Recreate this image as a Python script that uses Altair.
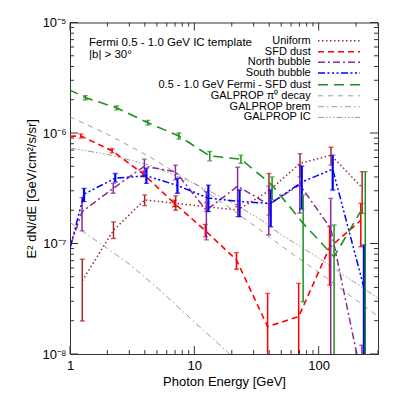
import altair as alt
import pandas as pd

# ---------------- data ----------------
energy = [0.75, 1.33, 2.37, 4.22, 7.50, 13.3, 23.7, 42.2, 75.0, 133.0, 237.0]

uniform_val = [None, 4.6e-8, 1.32e-7, 2.48e-7, 2.31e-7, 2.15e-7, 2.01e-7, 3.0e-7, 5.3e-7, 6.3e-7, 3.2e-7]
uniform_lo = [None, 1.99e-8, 1.11e-7, 2.2e-7, 2.0e-7, 1.95e-7, 1.75e-7, 1.81e-7, 4.0e-7, 5.13e-7, 1.87e-7]
uniform_hi = [None, 7.2e-8, 1.57e-7, 2.75e-7, 2.7e-7, 2.35e-7, 2.25e-7, 4.3e-7, 6.5e-7, 7.43e-7, 4.47e-7]

sfd_val = [9.2e-7, 9.4e-7, 6.9e-7, 4.26e-7, 2.31e-7, 1.31e-7, 7.1e-8, 1.77e-8, 2.18e-8, 9.2e-8, 1.62e-7]
sfd_lo = [9.2e-7, 9.0e-7, 6.6e-7, 4.0e-7, 2.15e-7, 1.15e-7, 5.85e-8, 2e-9, 2e-9, 4.2e-8, 9.35e-8]
sfd_hi = [9.2e-7, 9.8e-7, 7.2e-7, 4.5e-7, 2.47e-7, 1.49e-7, 8.26e-8, 3.54e-8, 4.36e-8, 1.42e-7, 2.31e-7]

north_val = [3.0e-8, 1.94e-7, 3.16e-7, 5.0e-7, 4.47e-7, 2.0e-7, 3.3e-7, 2.25e-7, 3.4e-7, 1.37e-7, 6e-9]
north_lo = [3.0e-8, 1.3e-7, 2.85e-7, 4.2e-7, 3.76e-7, 1.08e-7, 2.15e-7, 1.2e-7, 1.88e-7, 2e-9, 2e-9]
north_hi = [3.0e-8, 2.6e-7, 3.5e-7, 5.8e-7, 5.13e-7, 2.94e-7, 4.9e-7, 3.3e-7, 5.13e-7, 2.56e-7, 1.2e-8]

south_val = [2.3e-8, 2.8e-7, 3.9e-7, 4.1e-7, 3.35e-7, 2.58e-7, 2.4e-7, 2.3e-7, 3.6e-7, 4.7e-7, 4e-8]
south_lo = [2.3e-8, 2.39e-7, 3.6e-7, 3.5e-7, 2.85e-7, 1.94e-7, 1.75e-7, 1.42e-7, 2.05e-7, 3.05e-7, 2e-9]
south_hi = [2.3e-8, 3.16e-7, 4.3e-7, 4.8e-7, 3.89e-7, 3.38e-7, 3.05e-7, 3.05e-7, 5.0e-7, 6.3e-7, 9.7e-8]

fermi_val = [2.87e-6, 2.09e-6, 1.69e-6, 1.24e-6, 9.4e-7, 6.2e-7, 5.8e-7, 3.38e-7, 1.52e-7, 7.6e-8, 2.3e-7]
fermi_lo = [2.87e-6, 2.0e-6, 1.62e-6, 1.18e-6, 8.8e-7, 5.6e-7, 5.3e-7, 2.48e-7, 2.97e-8, 2e-9, 2e-9]
fermi_hi = [2.87e-6, 2.18e-6, 1.76e-6, 1.30e-6, 1.0e-6, 6.8e-7, 6.3e-7, 4.0e-7, 2.75e-7, 1.47e-7, 4.47e-7]

# small horizontal shift of each series' points (in dex of energy)
shift = {"Uniform": -0.025, "SFD dust": -0.036, "North bubble": -0.027,
         "South bubble": -0.011, "0.5 - 1.0 GeV Fermi - SFD dust": 0.0}

galprop_E = [1, 2, 4.4, 10, 20, 34, 50, 100, 300]
pi0_val = [1.40e-6, 9.75e-7, 6.07e-7, 3.47e-7, 2.04e-7, 1.32e-7, 9.5e-8, 5.5e-8, 2.2e-8]
ic_val = [7.3e-7, 6.4e-7, 5.1e-7, 3.5e-7, 2.35e-7, 1.65e-7, 1.2e-7, 7.4e-8, 3.2e-8]
brem_E = [1, 2, 3, 5, 10, 20, 40]
brem_val = [1.55e-7, 9.0e-8, 6.5e-8, 4.0e-8, 1.95e-8, 9.6e-9, 4.6e-9]

x_major = [1, 10, 100]
x_minor = [2, 3, 4, 5, 6, 7, 8, 9, 20, 30, 40, 50, 60, 70, 80, 90, 200, 300]
y_major = [1e-8, 1e-7, 1e-6, 1e-5]
y_minor = [k * 10.0 ** e for e in (-8, -7, -6) for k in range(2, 10)]

# ---------------- styles ----------------
W, H = 308, 331.5
FONT = "Liberation Sans"
GRAY = "#9a9a9a"

series = [
    ("Uniform", uniform_val, uniform_lo, uniform_hi, "#a52a2a", [1.5, 2.5], 1.5, 1.5),
    ("SFD dust", sfd_val, sfd_lo, sfd_hi, "#ff0000", [6, 4], 1.6, 1.5),
    ("North bubble", north_val, north_lo, north_hi, "#8b2a9b", [7, 3, 2, 3], 1.5, 1.5),
    ("South bubble", south_val, south_lo, south_hi, "#0000ff", [7, 2.5, 2, 2.5, 2, 2.5, 2, 2.5], 1.5, 2.2),
    ("0.5 - 1.0 GeV Fermi - SFD dust", fermi_val, fermi_lo, fermi_hi, "#1f8f1f", [10, 6], 1.6, 1.5),
]
gal_styles = [
    ("GALPROP π⁰ decay", galprop_E, pi0_val, [5, 5]),
    ("GALPROP brem", brem_E, brem_val, [6, 3, 1.5, 3]),
    ("GALPROP IC", galprop_E, ic_val, [6, 2, 1.5, 2, 1.5, 2, 1.5, 2]),
]

xscale = alt.Scale(type="log", domain=[1, 300], nice=False)
yscale = alt.Scale(type="log", domain=[1e-8, 1e-5], nice=False)

x_axis = alt.Axis(values=x_major, format="d", ticks=False, domain=False, grid=False,
                  labelFont=FONT, labelFontSize=13, labelColor="black", labelPadding=5,
                  labelFlush=False, title="Photon Energy [GeV]", titleFont=FONT,
                  titleFontSize=13, titleFontWeight="normal", titleColor="black", titlePadding=3)
y_axis = alt.Axis(values=y_major, ticks=False, domain=False, grid=False,
                  labelExpr="datum.value < 5e-8 ? '10⁻⁸' : datum.value < 5e-7 ? '10⁻⁷' : datum.value < 5e-6 ? '10⁻⁶' : '10⁻⁵'",
                  labelFont=FONT, labelFontSize=13, labelColor="black", labelPadding=4,
                  labelFlush=False, title="E² dN/dE [GeV/cm²/s/sr]", titleFont=FONT,
                  titleFontSize=13, titleFontWeight="normal", titleColor="black", titlePadding=4)


def X(field):
    return alt.X(field, scale=xscale, axis=x_axis)


def Y(field):
    return alt.Y(field, scale=yscale, axis=y_axis)


layers = []

# GALPROP model curves
for name, es, vs, dash in gal_styles:
    d = pd.DataFrame({"E": es, "v": vs})
    layers.append(
        alt.Chart(d).mark_line(color=GRAY, strokeWidth=1, strokeDash=dash, clip=True).encode(
            x=X("E:Q"), y=Y("v:Q"))
    )

# data series: lines + error bars + caps
for name, vals, los, his, color, dash, lw, elw in series:
    rows = []
    for e, v, lo, hi in zip(energy, vals, los, his):
        if v is None:
            continue
        rows.append({"E": e * 10 ** shift[name], "v": v, "lo": lo, "hi": hi, "raw": e})
    d = pd.DataFrame(rows)
    de = d[d["raw"] >= 1]
    layers.append(
        alt.Chart(d).mark_line(color=color, strokeWidth=lw, strokeDash=dash, clip=True).encode(
            x=X("E:Q"), y=Y("v:Q"))
    )
    layers.append(
        alt.Chart(de).mark_rule(color=color, strokeWidth=elw, clip=True).encode(
            x=X("E:Q"), y=Y("lo:Q"), y2="hi:Q")
    )
    for fld in ("lo", "hi"):
        layers.append(
            alt.Chart(de).mark_tick(color=color, orient="horizontal", size=5, thickness=1.3,
                                    clip=True).encode(x=X("E:Q"), y=Y(f"{fld}:Q"))
        )

# inward ticks on all four sides
FRAME = "#333333"
for vals, ln in ((x_major, 8), (x_minor, 4)):
    d = pd.DataFrame({"E": vals})
    layers.append(alt.Chart(d).mark_rule(color=FRAME, strokeWidth=1).encode(
        x=X("E:Q"), y=alt.value(H), y2=alt.value(H - ln)))
    layers.append(alt.Chart(d).mark_rule(color=FRAME, strokeWidth=1).encode(
        x=X("E:Q"), y=alt.value(0), y2=alt.value(ln)))
for vals, ln in ((y_major, 8), (y_minor, 4)):
    d = pd.DataFrame({"v": vals})
    layers.append(alt.Chart(d).mark_rule(color=FRAME, strokeWidth=1).encode(
        y=Y("v:Q"), x=alt.value(0), x2=alt.value(ln)))
    layers.append(alt.Chart(d).mark_rule(color=FRAME, strokeWidth=1).encode(
        y=Y("v:Q"), x=alt.value(W), x2=alt.value(W - ln)))

# in-plot title
layers.append(alt.Chart().mark_text(align="left", baseline="middle", font=FONT, fontSize=11.5,
                                    color="black").encode(
    x=alt.value(19), y=alt.value(20), text=alt.value("Fermi 0.5 - 1.0 GeV IC template")))
layers.append(alt.Chart().mark_text(align="left", baseline="middle", font=FONT, fontSize=11.5,
                                    color="black").encode(
    x=alt.value(19), y=alt.value(32), text=alt.value("|b| > 30°")))

# legend (labels right-aligned, line sample on the right)
legend_y = [18.2, 29.2, 39.8, 50.4, 62.3, 73.3, 84.2, 94.9]
legend_items = [(s[0], s[4], s[5], s[6]) for s in series] + \
               [(g[0], GRAY, g[3], 1) for g in gal_styles]
for (label, color, dash, lw), yy in zip(legend_items, legend_y):
    layers.append(alt.Chart().mark_text(align="right", baseline="middle", font=FONT,
                                        fontSize=11, color="black").encode(
        x=alt.value(240.7), y=alt.value(yy), text=alt.value(label)))
    layers.append(alt.Chart().mark_rule(color=color, strokeWidth=lw, strokeDash=dash).encode(
        x=alt.value(248), x2=alt.value(290), y=alt.value(yy)))

chart = alt.layer(*layers).properties(
    width=W, height=H,
    autosize=alt.AutoSizeParams(type="none"),
    padding={"left": 62, "top": 14.5, "right": 12, "bottom": 36},
).configure_view(stroke=FRAME, strokeWidth=1)

chart.save("out.html", embed_options={"renderer": "svg", "actions": False})
